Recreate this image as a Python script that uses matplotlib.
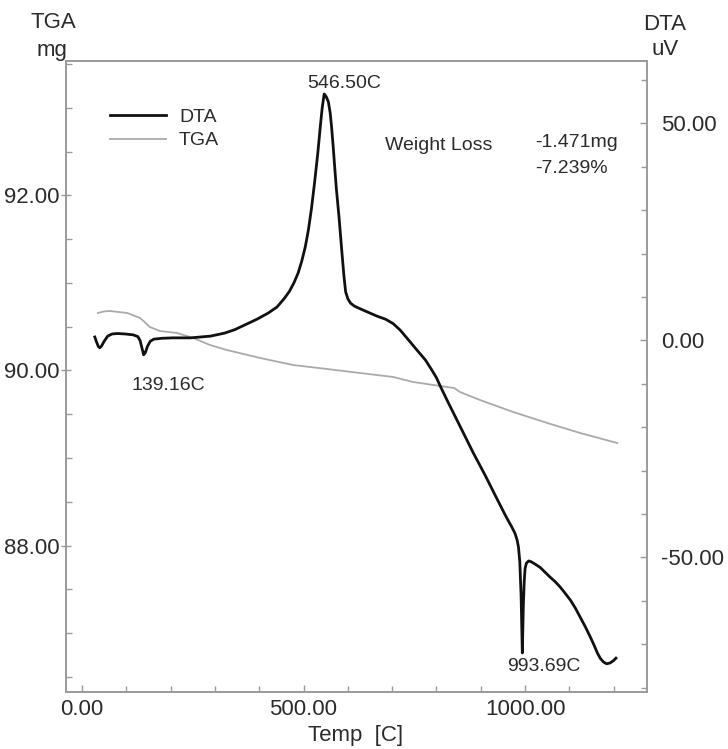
import matplotlib
matplotlib.use("Agg")
import matplotlib.pyplot as plt
from matplotlib.ticker import MultipleLocator, FormatStrFormatter
from matplotlib.lines import Line2D

plt.rcParams['font.family'] = ['Liberation Sans', 'DejaVu Sans']

# ---------------------------------------------------------
# Data
# ---------------------------------------------------------
dta_temp = [29, 33, 37, 40, 44, 50, 58, 68, 80, 97, 115, 126, 131, 135, 139.16, 143, 148, 154, 162,
            180, 205, 245, 290, 322, 345, 368, 395, 420, 440, 456, 468, 478, 488, 496, 504,
            511, 518, 525, 532, 538, 542, 546.5, 551, 556, 560, 563, 567, 571, 574, 580,
            586, 591, 595, 600, 606, 615, 630, 650, 666, 685, 702, 718, 737, 755, 775,
            790, 800, 808, 825, 846, 865, 883, 910, 937, 957, 970, 977, 982, 985,
            988, 991, 993.69, 996, 998, 1000, 1003, 1008, 1014, 1022, 1034, 1045, 1056,
            1068, 1079, 1090, 1102, 1113, 1124, 1136, 1147, 1156, 1163, 1170, 1177,
            1184, 1192, 1199, 1205]
dta_uv = [0.8, -0.4, -1.4, -1.7, -1.3, -0.2, 1.0, 1.5, 1.6, 1.5, 1.3, 0.9, 0.0, -1.6, -3.3, -2.8, -1.3, -0.2, 0.3,
          0.5, 0.6, 0.6, 1.0, 1.7, 2.5, 3.6, 4.9, 6.3, 7.7, 9.6, 11.3, 13.2, 15.6, 18.3, 21.6,
          25.5, 30.5, 36.5, 43.0, 49.5, 53.5, 56.8, 56.2, 55.0, 52.5, 49.5, 44.5, 39.0, 35.0, 28.5,
          21.0, 15.0, 11.2, 9.6, 8.6, 7.9, 7.2, 6.3, 5.6, 4.9, 3.9, 2.4, 0.1, -2.1, -4.5,
          -6.9, -8.6, -10.4, -14.0, -18.3, -22.2, -25.9, -31.1, -36.6, -40.6, -43.0, -44.4, -46.0, -47.6,
          -51.0, -59.0, -72.0, -61.0, -55.5, -52.5, -51.3, -50.8, -51.0, -51.5, -52.3, -53.4, -54.5,
          -55.6, -56.8, -58.2, -59.8, -61.6, -63.7, -66.0, -68.3, -70.3, -72.0, -73.3, -74.1,
          -74.5, -74.3, -73.8, -73.2]

tga_temp = [36, 50, 63, 102, 131, 140, 153, 176, 214, 251, 289, 327, 402, 476,
            553, 628, 702, 747, 824, 840, 853, 898, 973, 1050, 1124, 1208]
tga_mg = [90.657, 90.675, 90.680, 90.657, 90.600, 90.560, 90.497, 90.451, 90.429,
          90.371, 90.291, 90.234, 90.143, 90.063, 90.017, 89.971, 89.926, 89.869,
          89.811, 89.800, 89.754, 89.663, 89.526, 89.400, 89.286, 89.171]

peak_labels = [(592, 59.3, "546.50C"), (194, -10.3, "139.16C"), (1043, -75.2, "993.69C")]

text_col = "#2b2b2b"
axis_col = "#9a9a9a"

# ---------------------------------------------------------
# Figure
# ---------------------------------------------------------
fig = plt.figure(figsize=(7.28, 7.49), dpi=100)
ax1 = fig.add_axes([0.0907, 0.0761, 0.798, 0.8425])
ax2 = ax1.twinx()

ax1.plot(tga_temp, tga_mg, color="#aaaaaa", lw=1.3)
ax2.plot(dta_temp, dta_uv, color="#111111", lw=2.0, solid_joinstyle="round")

ax1.set_xlim(-36, 1275)
ax1.set_ylim(86.326, 93.537)
ax2.set_ylim(-81.0, 64.4)

ax1.xaxis.set_major_locator(MultipleLocator(500))
ax1.xaxis.set_minor_locator(MultipleLocator(100))
ax1.xaxis.set_major_formatter(FormatStrFormatter("%.2f"))
ax1.yaxis.set_major_locator(MultipleLocator(2))
ax1.yaxis.set_minor_locator(MultipleLocator(0.5))
ax1.yaxis.set_major_formatter(FormatStrFormatter("%.2f"))
ax2.yaxis.set_major_locator(MultipleLocator(50))
ax2.yaxis.set_minor_locator(MultipleLocator(10))
ax2.yaxis.set_major_formatter(FormatStrFormatter("%.2f"))

for ax in (ax1, ax2):
    for s in ax.spines.values():
        s.set_color(axis_col)
        s.set_linewidth(1.2)
    ax.tick_params(which="both", direction="in", color=axis_col, labelcolor=text_col,
                   labelsize=16)
    ax.tick_params(which="major", length=5, width=1)
    ax.tick_params(which="minor", length=4, width=1)
ax1.tick_params(axis="y", which="major", direction="inout", length=7, pad=1)
ax1.tick_params(axis="x", pad=5)
ax2.tick_params(axis="y", pad=10)

# peak labels
for x, y, s in peak_labels:
    ax2.text(x, y, s, ha="center", va="center", fontsize=14, color=text_col)

ax2.text(684, 45.0, "Weight Loss", ha="left", va="center", fontsize=14, color=text_col)
ax2.text(1023, 45.6, "-1.471mg", ha="left", va="center", fontsize=14, color=text_col)
ax2.text(1023, 39.6, "-7.239%", ha="left", va="center", fontsize=14, color=text_col)

# legend
handles = [Line2D([], [], color="#111111", lw=2.0), Line2D([], [], color="#aaaaaa", lw=1.3)]
ax2.legend(handles, ["DTA", "TGA"], loc="upper left", bbox_to_anchor=(0.0757, 0.925),
           frameon=False, fontsize=14, handlelength=2.9, handletextpad=0.65,
           labelspacing=0.3, borderpad=0, borderaxespad=0, labelcolor=text_col)

# axis titles
fig.text(0.0728, 0.9626, "TGA", ha="center", va="baseline", fontsize=16, color=text_col)
fig.text(0.0715, 0.9252, "mg", ha="center", va="baseline", fontsize=16, color=text_col)
fig.text(0.9135, 0.9600, "DTA", ha="center", va="baseline", fontsize=16, color=text_col)
fig.text(0.9135, 0.9266, "uV", ha="center", va="baseline", fontsize=16, color=text_col)
fig.text(0.489, 0.0174, "Temp  [C]", ha="center", va="center", fontsize=16, color=text_col)

fig.savefig("out.png", dpi=100)
